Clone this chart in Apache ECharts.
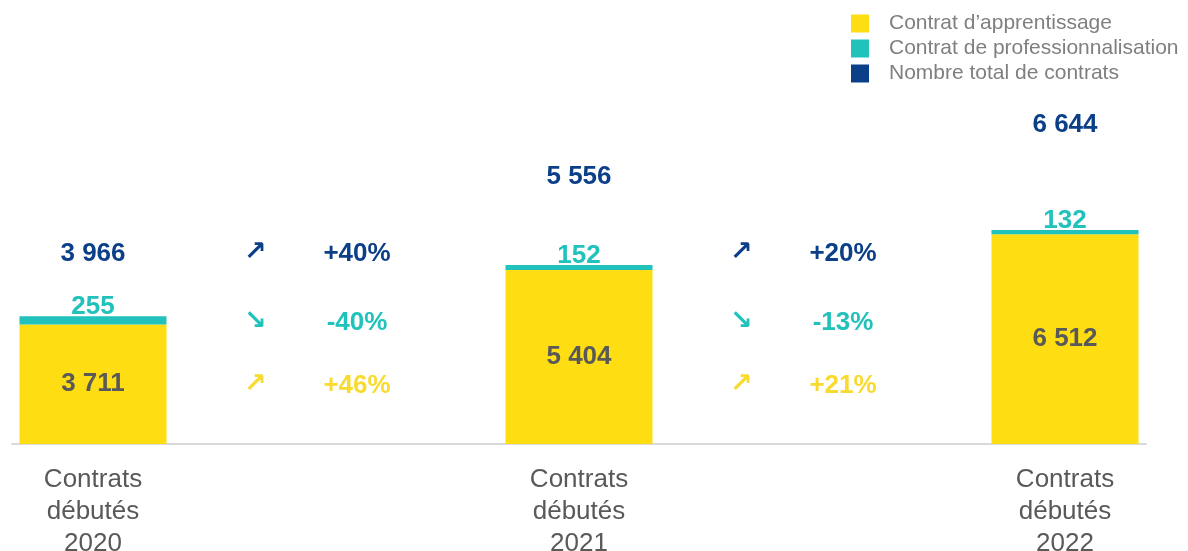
<!DOCTYPE html>
<html>
<head>
<meta charset="utf-8">
<script src="https://cdn.jsdelivr.net/npm/echarts@6/dist/echarts.min.js"></script>
<style>
  html, body { margin: 0; padding: 0; background: #fff; }
  #chart { width: 1188px; height: 551px; }
</style>
</head>
<body>
<div id="chart"></div>
<script>
// données
const years = ['2020', '2021', '2022'];
const apprentissage = [3711, 5404, 6512];
const professionnalisation = [255, 152, 132];
const totalContrats = [3966, 5556, 6644];
const seriesNames = ['Contrat d\u2019apprentissage', 'Contrat de professionnalisation', 'Nombre total de contrats'];

const YELLOW = '#FEDD12';
const TEAL = '#21C1BC';
const BLUE = '#0B3F88';
const GREY = '#595959';
const FONT = '"Liberation Sans", Arial, sans-serif';

// 3 années, 2 colonnes vides entre chaque
const GAP = 2;
const categories = [];
const yearIndex = [];
years.forEach((y, i) => {
  yearIndex.push(categories.length);
  categories.push('Contrats\ndébutés\n' + y);
  if (i < years.length - 1) {
    for (let k = 0; k < GAP; k++) categories.push('');
  }
});

const spread = arr => {
  const out = categories.map(() => '-');
  arr.forEach((v, i) => { out[yearIndex[i]] = v; });
  return out;
};

const fmt = v => String(v).replace(/\B(?=(\d{3})+(?!\d))/g, ' ');

// évolutions entre deux années (lignes : total, pro, apprentissage)
const rows = [
  { values: totalContrats, color: BLUE, level: 59.3 },
  { values: professionnalisation, color: TEAL, level: 37.9 },
  { values: apprentissage, color: '#F9DA2E', level: 18.3 },
];
const arrowData = [];
const pctData = [];
for (let i = 0; i < years.length - 1; i++) {
  const x = yearIndex[i] + 1;
  rows.forEach(r => {
    const pct = Math.round((r.values[i + 1] / r.values[i] - 1) * 100);
    const txt = (pct >= 0 ? '+' : '') + pct + '%';
    arrowData.push({ value: [x, r.level], name: pct >= 0 ? '\u2197' : '\u2198', label: { color: r.color } });
    pctData.push({ value: [x, r.level], name: txt, label: { color: r.color } });
  });
}

const chart = echarts.init(document.getElementById('chart'));

const option = {
  animation: false,
  textStyle: { fontFamily: FONT },
  legend: {
    data: seriesNames,
    orient: 'vertical',
    left: 851,
    top: 13,
    padding: 0,
    icon: 'rect',
    itemWidth: 18,
    itemHeight: 18,
    itemGap: 4,
    selectedMode: false,
    textStyle: { color: '#7F7F7F', fontSize: 21, lineHeight: 18, fontFamily: FONT, padding: [0, 0, 0, 15] },
  },
  grid: { left: 12, right: 42, top: 122, bottom: 107, outerBoundsMode: 'none' },
  xAxis: {
    type: 'category',
    data: categories,
    axisLine: { lineStyle: { color: '#D9D9D9', width: 2 } },
    axisTick: { show: false },
    axisLabel: {
      interval: 0,
      color: GREY,
      fontSize: 26,
      lineHeight: 32,
      margin: 20,
      fontFamily: FONT,
    },
  },
  yAxis: [
    { type: 'value', min: 0, max: 10000, show: false, splitLine: { show: false } },
    { type: 'value', min: 0, max: 6700, show: false, splitLine: { show: false } },
    { type: 'value', min: 0, max: 100, show: false, splitLine: { show: false } },
  ],
  series: [
    {
      name: seriesNames[0],
      type: 'bar',
      stack: 'c',
      barWidth: 147,
      data: spread(apprentissage),
      itemStyle: { color: YELLOW },
      label: {
        show: true,
        position: 'inside',
        color: GREY,
        fontSize: 26,
        fontWeight: 'bold',
        fontFamily: FONT,
        formatter: p => fmt(p.value),
      },
    },
    {
      name: seriesNames[1],
      type: 'bar',
      stack: 'c',
      barWidth: 147,
      data: spread(professionnalisation),
      itemStyle: { color: TEAL },
      label: {
        show: true,
        position: 'top',
        distance: 0,
        offset: [0, 4],
        color: TEAL,
        fontSize: 26,
        fontWeight: 'bold',
        fontFamily: FONT,
        formatter: p => fmt(p.value),
      },
    },
    {
      name: seriesNames[2],
      type: 'scatter',
      yAxisIndex: 1,
      symbolSize: 0,
      itemStyle: { color: BLUE, opacity: 1 },
      data: spread(totalContrats),
      label: {
        show: true,
        position: 'inside',
        color: BLUE,
        fontSize: 26,
        fontWeight: 'bold',
        fontFamily: FONT,
        formatter: p => fmt(p.value[1] !== undefined ? p.value[1] : p.value),
      },
      clip: false,
    },
    {
      name: 'fleches',
      type: 'scatter',
      yAxisIndex: 2,
      symbolSize: 0,
      itemStyle: { opacity: 1 },
      data: arrowData,
      label: {
        show: true,
        position: 'inside',
        fontSize: 27,
        fontWeight: 'bold',
        fontFamily: '"DejaVu Sans", sans-serif',
        formatter: p => p.name,
      },
    },
    {
      name: 'evolutions',
      type: 'scatter',
      yAxisIndex: 2,
      symbolSize: 0,
      itemStyle: { opacity: 1 },
      data: pctData,
      label: {
        show: true,
        position: 'inside',
        offset: [102, 1],
        fontSize: 26,
        fontWeight: 'bold',
        fontFamily: FONT,
        formatter: p => p.name,
      },
    },
  ],
};

chart.setOption(option);
</script>
</body>
</html>
